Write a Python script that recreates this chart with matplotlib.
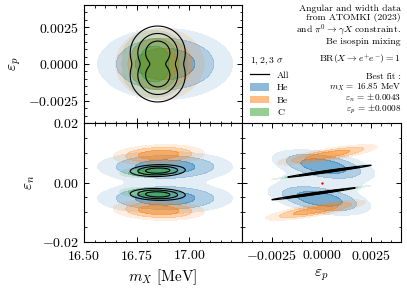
import numpy as np
import matplotlib
matplotlib.use("Agg")
import matplotlib.pyplot as plt
from matplotlib.colors import to_rgba
from matplotlib.lines import Line2D
from matplotlib.patches import Patch
from matplotlib.ticker import AutoMinorLocator, FuncFormatter

plt.rcParams['font.family'] = 'serif'
plt.rcParams['font.serif'] = ['cmr10', 'DejaVu Serif']
plt.rcParams['mathtext.fontset'] = 'cm'
plt.rcParams['axes.formatter.use_mathtext'] = True

# --- axis ranges and ticks ---
MX_RANGE = (16.5, 17.25)
EP_RANGE = (-0.004, 0.004)
EN_RANGE = (-0.02, 0.02)
MX_TICKS = [16.5, 16.75, 17.0]
EP_TICKS = [-0.0025, 0.0, 0.0025]
EN_TICKS = [-0.02, 0.0, 0.02]

# 1, 2, 3 sigma for 2 dof
CHI2_LEVELS = [2.30, 6.18, 11.83]

# --- likelihood blobs ---
# (centre x, centre y, sigma x, sigma y, correlation, chi2 offset)
HE_MX_EP = [(16.885, 0.0, 0.093, 0.0007, 0.0, 0.0)]
BE_MX_EP = [(16.86, 0.0, 0.061, 0.0007, 0.0, 0.0)]
C_MX_EP = [(16.835, 0.0005, 0.045, 0.00052, 0.0, 0.0),
           (16.835, -0.0005, 0.045, 0.00052, 0.0, 0.0)]
ALL_MX_EP = [(16.85, 0.00075, 0.038, 0.00053, 0.0, 0.0),
             (16.85, -0.00075, 0.038, 0.00053, 0.0, 0.0)]

HE_MX_EN = [(16.885, 0.0053, 0.093, 0.0015, 0.0, 0.0),
            (16.885, -0.0053, 0.093, 0.0015, 0.0, 0.0),
            (16.885, 0.0, 0.10, 0.002, 0.0, 8.5)]
BE_MX_EN = [(16.855, 0.0093, 0.063, 0.001, 0.15, 0.0),
            (16.855, -0.0093, 0.063, 0.001, -0.15, 0.0)]
C_MX_EN = [(16.825, 0.0037, 0.045, 0.0006, 0.3, 0.0),
           (16.825, -0.0037, 0.045, 0.0006, -0.3, 0.0)]
ALL_MX_EN = [(16.85, 0.0040, 0.038, 0.00058, 0.1, 0.0),
             (16.85, -0.0040, 0.038, 0.00058, -0.1, 0.0)]

HE_EP_EN = [(0.0001, 0.0055, 0.00075, 0.0016, -0.45, 0.0),
            (-0.0001, -0.0055, 0.00075, 0.0016, -0.45, 0.0),
            (0.0, 0.0, 0.0011, 0.002, -0.3, 8.5)]
BE_EP_EN = [(0.0003, 0.0093, 0.00073, 0.001, 0.8, 0.0),
            (-0.0003, -0.0093, 0.00073, 0.001, 0.8, 0.0)]
C_EP_EN = [(0.0, 0.0034, 0.00073, 0.0007, 0.99, 0.0),
           (0.0, -0.0034, 0.00073, 0.0007, 0.99, 0.0)]
ALL_EP_EN = [(0.0004, 0.0038, 0.00061, 0.00059, 0.985, 0.0),
             (-0.0004, -0.0038, 0.00061, 0.00059, 0.985, 0.0)]

SM_POINT = (0.0, 0.0)

COLORS = {'He': '#1f77b4', 'Be': '#ff7f0e', 'C': '#2ca02c'}
FILL_ALPHAS = [0.6, 0.35, 0.13]

INFO_TEXT = ("Angular and width data\nfrom ATOMKI (2023)\n"
             "and $\\pi^0\\to\\gamma X$ constraint.\nBe isospin mixing")
BR_TEXT = r"BR$(X\to e^{+}e^{-})=1$"
FIT_TEXT = ("Best fit :\n$m_X$ = 16.85 MeV\n"
            "$\\varepsilon_n$ = $\\pm$0.0043\n$\\varepsilon_p$ = $\\pm$0.0008")


def chi2_map(X, Y, comps, temp=1.0):
    q = []
    for cx, cy, sx, sy, rho, off in comps:
        dx = (X - cx) / sx
        dy = (Y - cy) / sy
        q.append((dx**2 - 2 * rho * dx * dy + dy**2) / (1 - rho**2) + off)
    q = np.array(q)
    qmin = q.min(axis=0)
    z = qmin - 2 * temp * np.log(np.exp(-(q - qmin) / (2 * temp)).sum(axis=0))
    return z - z.min()


def draw_panel(ax, xr, yr, sets, nx=500, ny=500):
    X, Y = np.meshgrid(np.linspace(*xr, nx), np.linspace(*yr, ny))
    for comps, name, temp in sets:
        z = chi2_map(X, Y, comps, temp)
        if name == 'All':
            ax.contour(X, Y, z, levels=CHI2_LEVELS, colors='k', linewidths=0.8)
        else:
            cols = [to_rgba(COLORS[name], a) for a in FILL_ALPHAS]
            ax.contourf(X, Y, z, levels=[-1] + CHI2_LEVELS, colors=cols)
    ax.set_xlim(*xr)
    ax.set_ylim(*yr)


def fmt(decimals):
    return FuncFormatter(lambda v, p: f"${round(v, 8) + 0.0:.{decimals}f}$")


def style(ax):
    ax.tick_params(which='both', direction='in', top=True, right=True, labelsize=10)
    ax.tick_params(which='major', length=3.5, width=0.7)
    ax.tick_params(which='minor', length=1.8, width=0.6)
    ax.tick_params(axis='x', which='major', pad=5)
    ax.xaxis.set_minor_locator(AutoMinorLocator())
    ax.yaxis.set_minor_locator(AutoMinorLocator())


W, H = 407, 289
fig = plt.figure(figsize=(W / 100, H / 100), dpi=100)
ax_tl = fig.add_axes([84 / W, 1 - 123 / H, 158 / W, 118 / H])
ax_bl = fig.add_axes([84 / W, 1 - 242 / H, 158 / W, 119 / H])
ax_br = fig.add_axes([242 / W, 1 - 242 / H, 159 / W, 119 / H])

draw_panel(ax_tl, MX_RANGE, EP_RANGE,
           [(HE_MX_EP, 'He', 1.0), (BE_MX_EP, 'Be', 1.0), (C_MX_EP, 'C', 1.0), (ALL_MX_EP, 'All', 0.5)])
draw_panel(ax_bl, MX_RANGE, EN_RANGE,
           [(HE_MX_EN, 'He', 1.0), (BE_MX_EN, 'Be', 1.0), (C_MX_EN, 'C', 1.0), (ALL_MX_EN, 'All', 1.0)],
           ny=800)
draw_panel(ax_br, EP_RANGE, EN_RANGE,
           [(HE_EP_EN, 'He', 1.0), (BE_EP_EN, 'Be', 1.0), (C_EP_EN, 'C', 1.0), (ALL_EP_EN, 'All', 1.0)],
           nx=700, ny=1400)
ax_br.scatter([SM_POINT[0]], [SM_POINT[1]], s=3, color='red', zorder=5, linewidths=0)

for ax in (ax_tl, ax_bl, ax_br):
    style(ax)

ax_tl.set_xticks(MX_TICKS)
ax_tl.set_yticks(EP_TICKS)
ax_tl.yaxis.set_major_formatter(fmt(4))
ax_tl.tick_params(labelbottom=False)
ax_tl.set_ylabel(r"$\varepsilon_p$", fontsize=11)

ax_bl.set_xticks(MX_TICKS)
ax_bl.set_yticks(EN_TICKS)
ax_bl.xaxis.set_major_formatter(fmt(2))
ax_bl.yaxis.set_major_formatter(fmt(2))
ax_bl.set_xlabel(r"$m_X$ [MeV]", fontsize=11, labelpad=3)
ax_bl.set_ylabel(r"$\varepsilon_n$", fontsize=11)

ax_br.set_xticks(EP_TICKS)
ax_br.set_yticks(EN_TICKS)
ax_br.xaxis.set_major_formatter(fmt(4))
ax_br.tick_params(labelleft=False)
ax_br.set_xlabel(r"$\varepsilon_p$", fontsize=11, labelpad=3)

# info text in the empty corner
fig.text(401 / W, 1 - 5 / H, INFO_TEXT, ha='right', va='top', fontsize=7, linespacing=1.0)
fig.text(401 / W, 1 - 59 / H, BR_TEXT, ha='right', va='center', fontsize=7)
fig.text(401 / W, 1 - 73 / H, FIT_TEXT, ha='right', va='top', fontsize=6.6, linespacing=0.85)

handles = [Line2D([], [], color='k', lw=0.9)]
handles += [Patch(facecolor=to_rgba(COLORS[k], 0.5), edgecolor='none') for k in ('He', 'Be', 'C')]
leg = fig.legend(handles, ['All', 'He', 'Be', 'C'], loc='upper left',
                 bbox_to_anchor=(243 / W, 1 - 49 / H), frameon=False, fontsize=7,
                 title=r"$1,2,3\ \sigma$", title_fontsize=7, alignment='left',
                 handlelength=2.0, handleheight=0.8, labelspacing=0.35, borderpad=0.2)

fig.savefig("out.png", dpi=100)
